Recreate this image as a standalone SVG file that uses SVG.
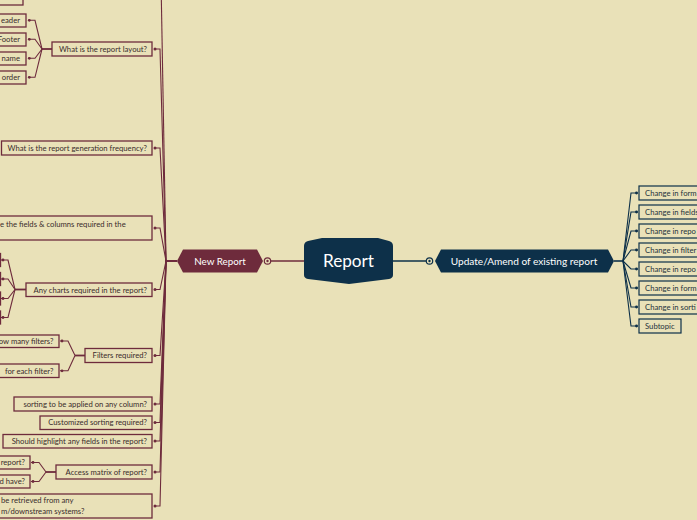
<svg xmlns="http://www.w3.org/2000/svg" width="697" height="520" viewBox="0 0 697 520">
<style>
.bg{fill:#e9e1b8}
.mb{fill:none;stroke:#6e2b3c;stroke-width:1.3}
.nb{fill:none;stroke:#0d3049;stroke-width:1.2}
.t{font-family:Lato,"Liberation Sans",sans-serif;font-size:7.7px;fill:#3a2c2c}
.tn{font-family:Lato,"Liberation Sans",sans-serif;font-size:7.7px;fill:#25323c}
.e{text-anchor:end}
.mc{fill:none;stroke:#6e2b3c;stroke-width:1.1}
.nc{fill:none;stroke:#0d3049;stroke-width:1.1}
.md{fill:#6e2b3c}
.nd{fill:#0d3049}
</style>
<rect class="bg" x="0" y="0" width="697" height="520"/>

<g id="connectors">
  <line x1="271" y1="261" x2="304" y2="261" stroke="#6e2b3c" stroke-width="1.6"/>
  <circle cx="267.5" cy="261" r="3.2" fill="none" stroke="#6e2b3c" stroke-width="1.2"/>
  <circle cx="267.5" cy="261" r="1.2" class="md"/>
  <line x1="393" y1="261" x2="426" y2="261" stroke="#0d3049" stroke-width="1.6"/>
  <circle cx="429.5" cy="261" r="3.2" fill="none" stroke="#0d3049" stroke-width="1.2"/>
  <circle cx="429.5" cy="261" r="1.2" class="nd"/>
  <line x1="177" y1="261" x2="165" y2="261" stroke="#6e2b3c" stroke-width="2"/>
  <path class="mc" d="M166,261 L161,-20"/>
  <path class="mc" d="M166,261 L160,49 L154,49"/>
  <path class="mc" d="M166,261 L160,148 L154,148"/>
  <path class="mc" d="M166,261 L160,228 L154,228"/>
  <path class="mc" d="M166,261 L160,289.5 L154,289.5"/>
  <path class="mc" d="M166,261 L160,355.5 L154,355.5"/>
  <path class="mc" d="M166,261 L160,404 L154,404"/>
  <path class="mc" d="M166,261 L160,422.5 L154,422.5"/>
  <path class="mc" d="M166,261 L160,441 L154,441"/>
  <path class="mc" d="M166,261 L160,472 L154,472"/>
  <path class="mc" d="M166,261 L160,506 L154,506"/>
  <g class="md">
    <circle cx="155" cy="49" r="1.5"/><circle cx="155" cy="148" r="1.5"/><circle cx="155" cy="228" r="1.5"/>
    <circle cx="155" cy="289.5" r="1.5"/><circle cx="155" cy="355.5" r="1.5"/><circle cx="155" cy="404" r="1.5"/>
    <circle cx="155" cy="422.5" r="1.5"/><circle cx="155" cy="441" r="1.5"/><circle cx="155" cy="472" r="1.5"/>
    <circle cx="155" cy="506" r="1.5"/>
  </g>
  <line x1="52" y1="49" x2="42" y2="49" stroke="#6e2b3c" stroke-width="1.8"/>
  <path class="mc" d="M42,49 L35,20.3 L28,20.3"/>
  <path class="mc" d="M42,49 L35,39.3 L28,39.3"/>
  <path class="mc" d="M42,49 L35,58.3 L28,58.3"/>
  <path class="mc" d="M42,49 L35,77.3 L28,77.3"/>
  <g class="md"><circle cx="29.3" cy="20.3" r="1.4"/><circle cx="29.3" cy="39.3" r="1.4"/><circle cx="29.3" cy="58.3" r="1.4"/><circle cx="29.3" cy="77.3" r="1.4"/></g>
  <line x1="26" y1="289.5" x2="15" y2="289.5" stroke="#6e2b3c" stroke-width="1.8"/>
  <path class="mc" d="M15,289.5 L8,260 L1,260"/>
  <path class="mc" d="M15,289.5 L8,279 L1,279"/>
  <path class="mc" d="M15,289.5 L8,298.5 L1,298.5"/>
  <path class="mc" d="M15,289.5 L8,317.5 L1,317.5"/>
  <g class="md"><circle cx="3" cy="260" r="1.4"/><circle cx="3" cy="279" r="1.4"/><circle cx="3" cy="298.5" r="1.4"/><circle cx="3" cy="317.5" r="1.4"/></g>
  <line x1="85" y1="355.5" x2="75" y2="355.5" stroke="#6e2b3c" stroke-width="1.8"/>
  <path class="mc" d="M75,355.5 L68,341 L60,341"/>
  <path class="mc" d="M75,355.5 L68,370.8 L60,370.8"/>
  <g class="md"><circle cx="62" cy="341" r="1.4"/><circle cx="62" cy="370.8" r="1.4"/></g>
  <line x1="56" y1="472" x2="46" y2="472" stroke="#6e2b3c" stroke-width="1.8"/>
  <path class="mc" d="M46,472 L39,462.5 L31,462.5"/>
  <path class="mc" d="M46,472 L39,481.5 L31,481.5"/>
  <g class="md"><circle cx="33" cy="462.5" r="1.4"/><circle cx="33" cy="481.5" r="1.4"/></g>
  <line x1="614" y1="261" x2="623" y2="261" stroke="#0d3049" stroke-width="1.6"/>
  <path class="nc" d="M623,261 L631,193 L638,193"/>
  <path class="nc" d="M623,261 L631,212 L638,212"/>
  <path class="nc" d="M623,261 L631,231 L638,231"/>
  <path class="nc" d="M623,261 L631,250 L638,250"/>
  <path class="nc" d="M623,261 L631,269 L638,269"/>
  <path class="nc" d="M623,261 L631,288 L638,288"/>
  <path class="nc" d="M623,261 L631,307 L638,307"/>
  <path class="nc" d="M623,261 L631,326 L638,326"/>
  <g class="nd">
    <circle cx="636.5" cy="193" r="1.4"/><circle cx="636.5" cy="212" r="1.4"/><circle cx="636.5" cy="231" r="1.4"/><circle cx="636.5" cy="250" r="1.4"/>
    <circle cx="636.5" cy="269" r="1.4"/><circle cx="636.5" cy="288" r="1.4"/><circle cx="636.5" cy="307" r="1.4"/><circle cx="636.5" cy="326" r="1.4"/>
  </g>
</g>

<g id="report">
  <path d="M304,246 Q304,242 308,241 L322,238 L378,238 L389,241 Q393,242 393,246 L393,275 Q393,278 389,279 L349,284 L308,279 Q304,278 304,275 Z" fill="#0d3049"/>
  <text x="348.5" y="267" text-anchor="middle" font-family="Lato,'Liberation Sans',sans-serif" font-size="17.2" fill="#ffffff">Report</text>
</g>

<g id="new-report">
  <path d="M177,261 L183,249.5 L257,249.5 L263,261 L257,272.5 L183,272.5 Z" fill="#6e2b3c"/>
  <text x="220" y="264.5" text-anchor="middle" font-family="Lato,'Liberation Sans',sans-serif" font-size="9.8" fill="#ffffff">New Report</text>
</g>

<g id="update-report">
  <path d="M435,261 L441,249.5 L608,249.5 L614,261 L608,272.5 L441,272.5 Z" fill="#0d3049"/>
  <text x="524" y="264.5" text-anchor="middle" font-family="Lato,'Liberation Sans',sans-serif" font-size="10.1" fill="#ffffff">Update/Amend of existing report</text>
</g>

<g id="top-offscreen"><rect class="mb" x="-10" y="-10" width="33" height="15"/></g>

<g id="layout">
  <rect class="mb" x="52" y="42" width="100" height="14"/>
  <text class="t e" x="147" y="51.7">What is the report layout?</text>
</g>
<g id="layout-header"><rect class="mb" x="-20" y="14" width="46" height="13"/><text class="t e" x="20" y="23">eader</text></g>
<g id="layout-footer"><rect class="mb" x="-20" y="33" width="46" height="13"/><text class="t e" x="20" y="42">Footer</text></g>
<g id="layout-name"><rect class="mb" x="-20" y="52" width="46" height="13"/><text class="t e" x="20" y="61">name</text></g>
<g id="layout-order"><rect class="mb" x="-20" y="71" width="46" height="13"/><text class="t e" x="20" y="80">order</text></g>

<g id="frequency">
  <rect class="mb" x="1.5" y="141" width="150.5" height="14"/>
  <text class="t e" x="147" y="150.7">What is the report generation frequency?</text>
</g>

<g id="fields">
  <rect class="mb" x="-20" y="216" width="172" height="24"/>
  <text class="t" x="0" y="226.5">e the fields &amp; columns required in the</text>
</g>

<g id="charts">
  <rect class="mb" x="26" y="283" width="126" height="13.5"/>
  <text class="t e" x="147" y="292.5">Any charts required in the report?</text>
</g>
<g id="charts-1"><rect class="mb" x="-30" y="253.5" width="30.5" height="13"/></g>
<g id="charts-2"><rect class="mb" x="-30" y="272.5" width="30.5" height="13"/></g>
<g id="charts-3"><rect class="mb" x="-30" y="292" width="30.5" height="13"/></g>
<g id="charts-4"><rect class="mb" x="-30" y="311" width="30.5" height="13"/></g>

<g id="filters">
  <rect class="mb" x="85" y="348.5" width="67" height="14"/>
  <text class="t e" x="147" y="358.2">Filters required?</text>
</g>
<g id="filters-1"><rect class="mb" x="-10" y="335" width="69" height="12.5"/><text class="t e" x="53.5" y="343.8">ow many filters?</text></g>
<g id="filters-2"><rect class="mb" x="-10" y="364" width="69" height="13.5"/><text class="t e" x="53.5" y="373.5">for each filter?</text></g>

<g id="sorting">
  <rect class="mb" x="14" y="397" width="138" height="14"/>
  <text class="t e" x="147" y="406.7">sorting to be applied on any column?</text>
</g>
<g id="custom-sorting">
  <rect class="mb" x="40" y="416" width="112" height="13.5"/>
  <text class="t e" x="147" y="425.4">Customized sorting required?</text>
</g>
<g id="highlight">
  <rect class="mb" x="3" y="434.5" width="149" height="13.5"/>
  <text class="t e" x="147" y="443.9">Should highlight any fields in the report?</text>
</g>

<g id="access">
  <rect class="mb" x="56" y="465" width="96" height="14"/>
  <text class="t e" x="147" y="474.7">Access matrix of report?</text>
</g>
<g id="access-1"><rect class="mb" x="-10" y="456" width="40" height="13"/><text class="t e" x="25" y="465.2">report?</text></g>
<g id="access-2"><rect class="mb" x="-10" y="475" width="40" height="13"/><text class="t e" x="25" y="484.2">d have?</text></g>

<g id="retrieve">
  <rect class="mb" x="-20" y="494" width="172" height="24"/>
  <text class="t" x="1" y="503.2">be retrieved from any</text>
  <text class="t" x="1" y="514.2">m/downstream systems?</text>
</g>

<g id="change-1"><rect class="nb" x="639" y="186" width="70" height="14"/><text class="tn" x="645" y="195.7">Change in form</text></g>
<g id="change-2"><rect class="nb" x="639" y="205" width="70" height="14"/><text class="tn" x="645" y="214.7">Change in fields</text></g>
<g id="change-3"><rect class="nb" x="639" y="224" width="70" height="14"/><text class="tn" x="645" y="233.7">Change in repo</text></g>
<g id="change-4"><rect class="nb" x="639" y="243" width="70" height="14"/><text class="tn" x="645" y="252.7">Change in filter</text></g>
<g id="change-5"><rect class="nb" x="639" y="262" width="70" height="14"/><text class="tn" x="645" y="271.7">Change in repo</text></g>
<g id="change-6"><rect class="nb" x="639" y="281" width="70" height="14"/><text class="tn" x="645" y="290.7">Change in form</text></g>
<g id="change-7"><rect class="nb" x="639" y="300" width="70" height="14"/><text class="tn" x="645" y="309.7">Change in sorti</text></g>
<g id="subtopic"><rect class="nb" x="639" y="319" width="42" height="14"/><text class="tn" x="645" y="328.7">Subtopic</text></g>
</svg>
